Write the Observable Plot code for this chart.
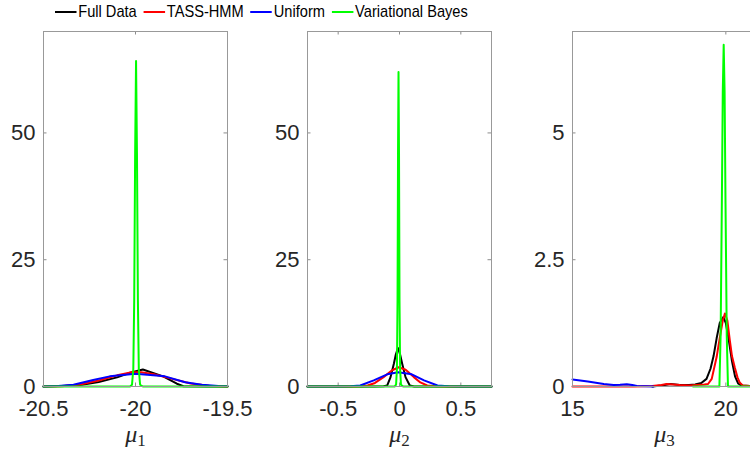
<!DOCTYPE html>
<html><head><meta charset="utf-8">
<script src="https://cdn.jsdelivr.net/npm/d3@7"></script>
<script src="https://cdn.jsdelivr.net/npm/@observablehq/plot@0.6"></script>
<style>
html,body{margin:0;padding:0;background:#fff;overflow:hidden;width:750px;height:452px}
#wrap{position:relative;width:750px;height:452px;overflow:hidden}
#legend{position:absolute;left:55px;top:0;height:24px;display:flex;align-items:center;font-family:"Liberation Sans",Arial,sans-serif;font-size:17px;color:#000;white-space:nowrap;transform:scaleX(0.86);transform-origin:0 0}
.item{display:flex;align-items:center;margin-right:8px}
.swatch{width:25px;height:2px;margin-right:2px}
.panel{position:absolute;top:0}
</style></head><body><div id="wrap"><div id="legend"></div></div>
<script>
const series = ["Full Data", "TASS-HMM", "Uniform", "Variational Bayes"];
const colors = ["#000000", "#ff0000", "#0000ff", "#00ff00"];

// Panel 1: mu_1
const p1XTicks = [-20.5, -20, -19.5];
const p1XLabels = ["-20.5", "-20", "-19.5"];
const p1YTicks = [0, 25, 50];
const p1YLabels = ["0", "25", "50"];
const p1FullX = [-20.5, -20.4, -20.3, -20.2, -20.1, -20.03, -19.96, -19.85, -19.775, -19.74, -19.6, -19.5];
const p1FullY = [0, 0.08, 0.3, 0.9, 1.8, 2.7, 3.36, 2.0, 0.55, 0.05, 0.01, 0];
const p1TassX = [-20.5, -20.4, -20.3, -20.2, -20.1, -20.02, -19.97, -19.9, -19.8, -19.7, -19.6, -19.5];
const p1TassY = [0, 0.05, 0.4, 1.2, 2.2, 2.8, 2.83, 2.4, 1.5, 0.6, 0.15, 0.02];
const p1UnifX = [-20.5, -20.42, -20.337, -20.23, -20.14, -20.0, -19.84, -19.73, -19.64, -19.55, -19.5];
const p1UnifY = [0.02, 0.1, 0.33, 1.3, 2.0, 2.5, 2.0, 0.85, 0.33, 0.1, 0.05];
const p1VbX = [-20.5, -20.03, -20.019, -20.012, -20.007, -20.002, -19.997, -19.992, -19.987, -19.982, -19.975, -19.96, -19.5];
const p1VbY = [0, 0, 0.35, 3.4, 17, 46, 64.2, 46, 17, 3.4, 0.35, 0, 0];

// Panel 2: mu_2
const p2XTicks = [-0.5, 0, 0.5];
const p2XLabels = ["-0.5", "0", "0.5"];
const p2YTicks = [0, 25, 50];
const p2YLabels = ["0", "25", "50"];
const p2FullX = [-0.75, -0.2, -0.13, -0.1, -0.073, -0.046, -0.03, -0.013, 0.005, 0.022, 0.049, 0.084, 0.12, 0.75];
const p2FullY = [0, 0, 0.03, 0.2, 1.85, 4.5, 6.3, 7.6, 6.3, 4.5, 1.85, 0.2, 0.02, 0];
const p2TassX = [-0.75, -0.4, -0.3, -0.26, -0.2, -0.13, -0.06, -0.006, 0.05, 0.117, 0.17, 0.226, 0.3, 0.4, 0.75];
const p2TassY = [0, 0, 0.05, 0.2, 0.7, 1.85, 3.2, 3.8, 3.3, 1.85, 0.8, 0.2, 0.03, 0, 0];
const p2UnifX = [-0.75, -0.5, -0.4, -0.32, -0.21, -0.1, -0.01, 0.1, 0.2, 0.31, 0.4, 0.5, 0.75];
const p2UnifY = [0, 0, 0.04, 0.2, 1.2, 2.4, 2.83, 2.4, 1.2, 0.2, 0.04, 0, 0];
const p2VbX = [-0.75, -0.04, -0.028, -0.021, -0.016, -0.012, -0.008, -0.004, 0.0, 0.005, 0.012, 0.03, 0.75];
const p2VbY = [0, 0, 0.35, 3.4, 17, 46, 62, 46, 17, 3.4, 0.35, 0, 0];

// Panel 3: mu_3
const p3XTicks = [15, 20];
const p3XLabels = ["15", "20"];
const p3YTicks = [0, 2.5, 5];
const p3YLabels = ["0", "2.5", "5"];
const p3FullX = [17.6, 17.9, 18.2, 18.5, 18.8, 19.0, 19.2, 19.37, 19.5, 19.6, 19.7, 19.8, 19.92, 20.0, 20.1, 20.2, 20.3, 20.4, 20.5, 21];
const p3FullY = [0.0, 0.02, 0.05, 0.03, 0.03, 0.04, 0.07, 0.15, 0.35, 0.6, 0.95, 1.25, 1.37, 1.25, 0.9, 0.5, 0.2, 0.06, 0.02, 0];
const p3TassX = [15, 16, 17, 17.6, 17.9, 18.07, 18.3, 18.5, 18.8, 19.05, 19.3, 19.42, 19.54, 19.7, 19.8, 19.9, 19.97, 20.05, 20.13, 20.2, 20.29, 20.38, 20.45, 20.55, 21];
const p3TassY = [0, 0, 0, 0.01, 0.03, 0.05, 0.04, 0.03, 0.02, 0.03, 0.04, 0.05, 0.15, 0.58, 0.95, 1.3, 1.44, 1.3, 0.91, 0.6, 0.38, 0.18, 0.08, 0.02, 0];
const p3UnifX = [15, 15.5, 16.02, 16.34, 16.55, 16.77, 16.95, 17.1, 17.4, 17.64];
const p3UnifY = [0.14, 0.1, 0.05, 0.03, 0.035, 0.045, 0.03, 0.01, 0.005, 0];
const p3VbX = [18.93, 19.79, 19.83, 19.87, 19.9, 19.93, 19.96, 19.99, 20.03, 20.07, 21];
const p3VbY = [0, 0, 1.0, 3.6, 5.8, 6.74, 5.8, 3.6, 1.0, 0, 0];

const H = 452, MT = 31, MB = 66, TICK = 3.5;
const panels = [
  {left: 0, width: 250, mL: 43, mR: 23, xDomain: [-20.5, -19.5], yDomain: [0, 70],
   xTicks: p1XTicks, xLabels: p1XLabels, yTicks: p1YTicks, yLabels: p1YLabels, label: "μ1",
   curves: [[p1FullX, p1FullY], [p1TassX, p1TassY], [p1UnifX, p1UnifY], [p1VbX, p1VbY]]},
  {left: 250, width: 250, mL: 57, mR: 9, xDomain: [-0.75, 0.75], yDomain: [0, 70],
   xTicks: p2XTicks, xLabels: p2XLabels, yTicks: p2YTicks, yLabels: p2YLabels, label: "μ2",
   curves: [[p2FullX, p2FullY], [p2TassX, p2TassY], [p2UnifX, p2UnifY], [p2VbX, p2VbY]]},
  {left: 500, width: 260, mL: 72, mR: 4, xDomain: [15, 21], yDomain: [0, 7],
   xTicks: p3XTicks, xLabels: p3XLabels, yTicks: p3YTicks, yLabels: p3YLabels, label: "μ3",
   curves: [[p3FullX, p3FullY], [p3TassX, p3TassY], [p3UnifX, p3UnifY], [p3VbX, p3VbY]]}
];

const wrap = document.getElementById("wrap");
const legend = document.getElementById("legend");
series.forEach((s, i) => {
  const it = document.createElement("div"); it.className = "item";
  const sw = document.createElement("div"); sw.className = "swatch"; sw.style.background = colors[i];
  const tx = document.createElement("span"); tx.textContent = s;
  it.appendChild(sw); it.appendChild(tx); legend.appendChild(it);
});

const fh = H - MT - MB;
panels.forEach(p => {
  const fw = p.width - p.mL - p.mR;
  const rows = [];
  p.curves.forEach(([xs, ys], i) => xs.forEach((x, j) => rows.push({x, y: ys[j], s: series[i]})));
  const chart = Plot.plot({
    width: p.width, height: H,
    marginLeft: p.mL, marginRight: p.mR, marginTop: MT, marginBottom: MB,
    style: {fontFamily: "'Liberation Sans', Arial, sans-serif", fontSize: "22px", color: "#262626", background: "transparent", overflow: "visible"},
    x: {domain: p.xDomain},
    y: {domain: p.yDomain},
    color: {domain: series, range: colors},
    marks: [
      Plot.axisX({ticks: p.xTicks, tickSize: 0, tickPadding: 14, label: null, fontSize: 22,
        tickFormat: d => p.xLabels[p.xTicks.indexOf(d)]}),
      Plot.axisY({ticks: p.yTicks, tickSize: 0, tickPadding: 8, label: null, fontSize: 22,
        tickFormat: d => p.yLabels[p.yTicks.indexOf(d)]}),
      Plot.tickX(p.xTicks, {x: d => d, stroke: "#8c8c8c", insetTop: fh - TICK}),
      Plot.tickX(p.xTicks, {x: d => d, stroke: "#8c8c8c", insetBottom: fh - TICK}),
      Plot.tickY(p.yTicks, {y: d => d, stroke: "#8c8c8c", insetRight: fw - TICK}),
      Plot.tickY(p.yTicks, {y: d => d, stroke: "#8c8c8c", insetLeft: fw - TICK}),
      Plot.line(rows, {x: "x", y: "y", z: "s", stroke: "s", strokeWidth: 2, strokeLinejoin: "round"}),
      Plot.frame({stroke: "#999999"}),
      Plot.text([p.label], {text: d => d, frameAnchor: "bottom", lineAnchor: "bottom", dy: 55,
        fontFamily: "'Liberation Serif', serif", fontSize: 24, fill: "#262626"})
    ]
  });
  chart.classList.add("panel");
  chart.style.left = p.left + "px";
  wrap.appendChild(chart);
  chart.querySelectorAll("text").forEach(t => {
    const m = /^μ(\d)$/.exec(t.textContent);
    if (m) {
      while (t.firstChild) t.removeChild(t.firstChild);
      const NS = "http://www.w3.org/2000/svg";
      const a = document.createElementNS(NS, "tspan");
      a.textContent = "μ"; a.setAttribute("font-style", "italic");
      const b = document.createElementNS(NS, "tspan");
      b.textContent = m[1]; b.setAttribute("font-size", "17"); b.setAttribute("dy", "4");
      t.appendChild(a); t.appendChild(b);
    }
  });
});
</script></body></html>
